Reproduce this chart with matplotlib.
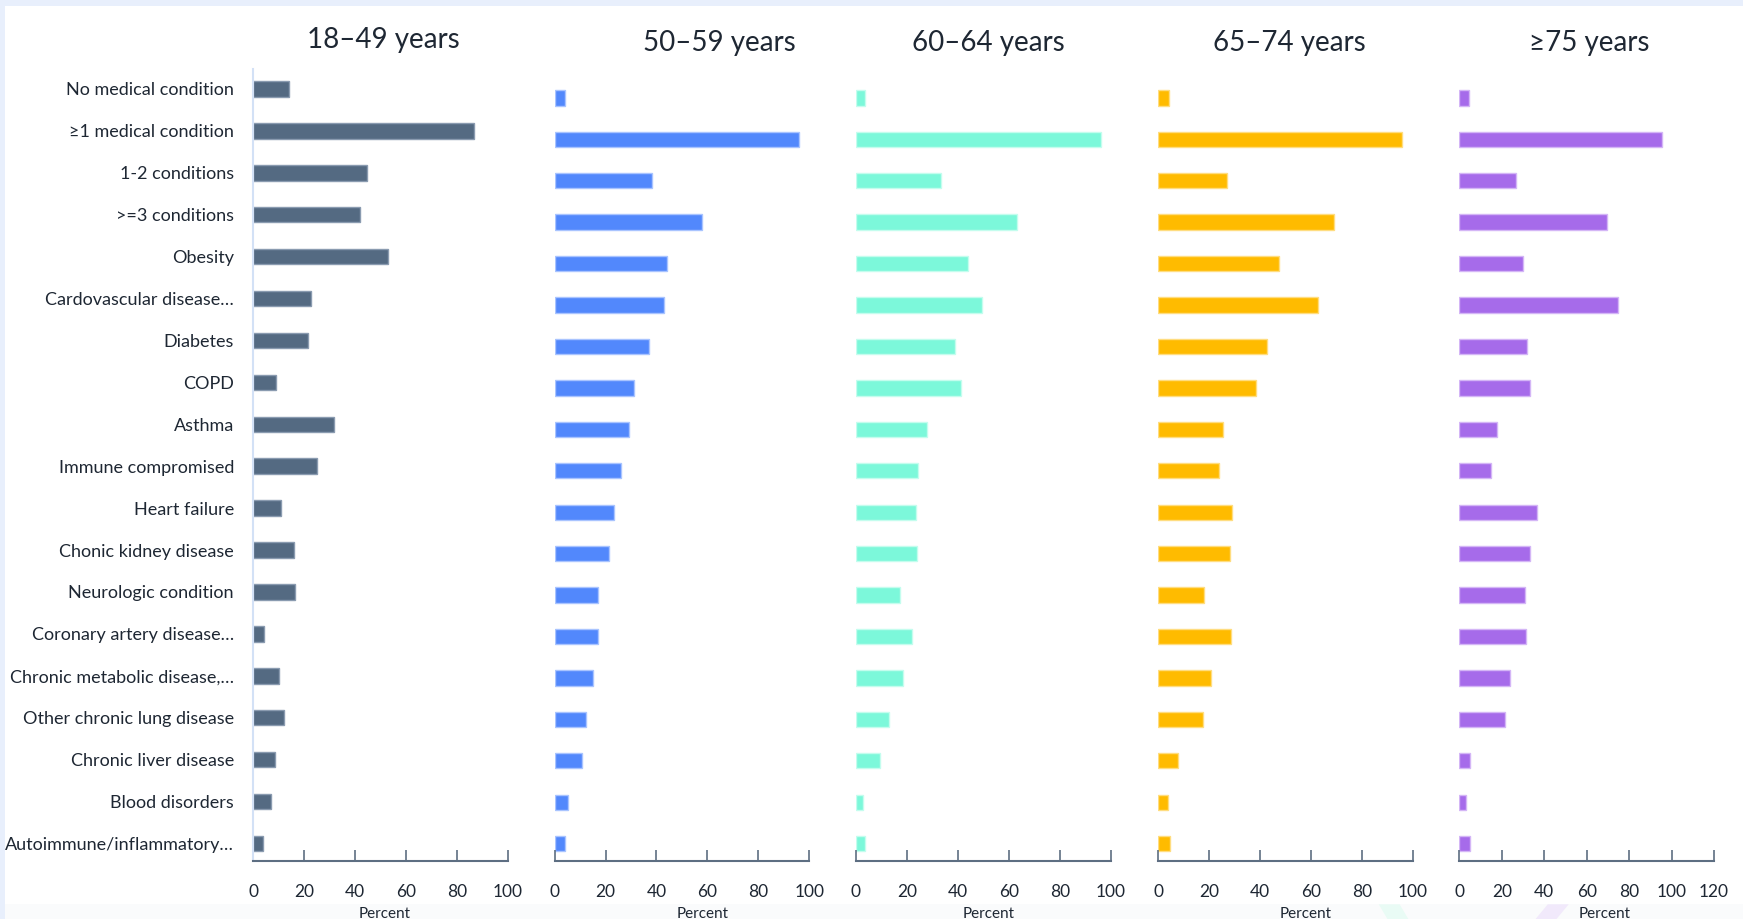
import matplotlib.pyplot as plt
import matplotlib.patches as mpatches
import numpy as np

plt.rcParams['font.family'] = ['Lato', 'DejaVu Sans']

# categories, top to bottom
conditions = ["No medical condition", "≥1 medical condition", "1-2 conditions",
              ">=3 conditions", "Obesity", "Cardovascular disease…", "Diabetes",
              "COPD", "Asthma", "Immune compromised", "Heart failure",
              "Chonic kidney disease", "Neurologic condition",
              "Coronary artery disease…", "Chronic metabolic disease,…",
              "Other chronic lung disease", "Chronic liver disease",
              "Blood disorders", "Autoimmune/inflammatory…"]

age_groups = ["18–49 years", "50–59 years", "60–64 years", "65–74 years", "≥75 years"]

pct_18_49 = [14.0, 86.5, 44.5, 41.8, 52.9, 22.7, 21.5, 9.0, 31.6, 25.0, 11.0,
             15.8, 16.2, 4.0, 10.0, 11.9, 8.3, 7.0, 3.6]
pct_50_59 = [4.0, 95.9, 38.1, 57.8, 44.3, 43.0, 36.9, 31.3, 29.2, 26.2, 23.3,
             21.5, 17.2, 17.1, 14.9, 12.5, 10.6, 5.1, 4.2]
pct_60_64 = [3.7, 96.2, 33.4, 63.1, 43.8, 49.3, 38.9, 41.2, 27.9, 24.5, 23.7,
             24.0, 17.3, 21.9, 18.6, 12.8, 9.3, 2.7, 3.4]
pct_65_74 = [4.4, 95.7, 26.9, 68.9, 47.4, 62.7, 42.6, 38.4, 25.5, 23.8, 28.9,
             28.2, 18.1, 28.7, 20.8, 17.6, 7.6, 3.8, 4.7]
pct_75_up = [4.4, 95.7, 26.5, 69.4, 29.9, 74.7, 31.8, 33.2, 17.7, 14.9, 36.5,
             33.2, 30.9, 31.5, 23.8, 21.3, 5.0, 3.1, 5.0]

all_pct = [pct_18_49, pct_50_59, pct_60_64, pct_65_74, pct_75_up]
xmax = [100, 100, 100, 100, 120]
colors = ["#546a82", "#5288fc", "#7cf8da", "#ffbb00", "#a66bea"]
edges = ["#8a9bb0", "#a9c4ff", "#c4fdee", "#ffdd80", "#d4b6f6"]

text_col = "#1e2733"
axis_col = "#5d6e82"

fig = plt.figure(figsize=(17.43, 9.19), dpi=100)
fig.patch.set_facecolor("#e8effc")
# white card with light blue frame on top / left
fig.patches.append(mpatches.Rectangle((0.003, 0.0), 0.997, 0.994, transform=fig.transFigure,
                                      facecolor="white", edgecolor="none", zorder=-10))
fig.patches.append(mpatches.Rectangle((0.003, 0.0), 0.997, 0.016, transform=fig.transFigure,
                                      facecolor="#fafbfc", edgecolor="none", zorder=-9))
# faint background decoration at bottom right
fig.patches.append(mpatches.Polygon([(0.791, 0.016), (0.803, 0.016), (0.808, 0.0), (0.796, 0.0)],
                                    transform=fig.transFigure, facecolor="#e9fbf5",
                                    edgecolor="none", zorder=-8))
fig.patches.append(mpatches.Polygon([(0.888, 0.016), (0.9, 0.016), (0.893, 0.0), (0.881, 0.0)],
                                    transform=fig.transFigure, facecolor="#f1e9fb",
                                    edgecolor="none", zorder=-8))

lefts = [0.1454, 0.3182, 0.4911, 0.6645, 0.8373]
title_x = [0.22, 0.413, 0.567, 0.74, 0.912]
title_y = [0.956, 0.953, 0.953, 0.953, 0.953]
xlabel_x = [0.515, 0.58, 0.52, 0.58, 0.572]
w = 0.1461
bottom = 0.0626
h = 0.8625
ypos = np.arange(len(conditions))

for i in range(5):
    ax = fig.add_axes([lefts[i], bottom, w, h])
    ax.set_facecolor("none")
    ax.barh(ypos, all_pct[i], height=0.37, color=colors[i], edgecolor=edges[i], linewidth=1)
    ax.set_xlim(0, xmax[i])
    if i == 0:
        ax.set_ylim(18.43, -0.48)
    else:
        ax.set_ylim(18.43, -0.70)
    ax.set_xticks(np.arange(0, xmax[i] + 1, 20))
    ax.tick_params(axis="x", direction="in", length=8, width=1.2, color=axis_col,
                   labelsize=12.5, labelcolor=text_col, pad=16)
    for s in ["top", "right"]:
        ax.spines[s].set_visible(False)
    ax.spines["bottom"].set_color(axis_col)
    ax.spines["bottom"].set_linewidth(1.5)
    if i == 0:
        ax.spines["left"].set_color("#d3e1f6")
        ax.spines["left"].set_linewidth(1.5)
        ax.set_yticks(ypos)
        ax.set_yticklabels(conditions, fontsize=13, color=text_col)
        ax.tick_params(axis="y", length=0, pad=14)
    else:
        ax.spines["left"].set_visible(False)
        ax.set_yticks([])
    ax.set_xlabel("Percent", fontsize=11, color=text_col)
    ax.xaxis.set_label_coords(xlabel_x[i], -0.066)
    ax.xaxis.label.set_va("center")
    fig.text(title_x[i], title_y[i], age_groups[i], fontsize=20, color=text_col,
             ha="center", va="center")

fig.savefig("out.png", dpi=100, facecolor=fig.get_facecolor())
